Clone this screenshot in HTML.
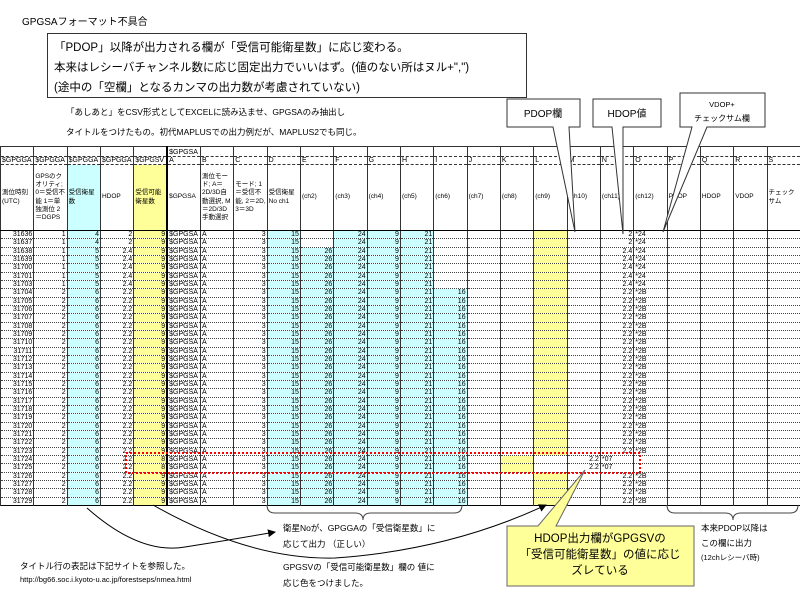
<!DOCTYPE html>
<html><head><meta charset="utf-8"><style>
body{margin:0;width:800px;height:600px;background:#fff;position:relative;overflow:hidden;font-family:"Liberation Sans","Noto Sans CJK JP",sans-serif;}
.tx{position:absolute;white-space:nowrap;color:#000;}
table{position:absolute;left:0;top:146px;width:800px;border-collapse:collapse;table-layout:fixed;font-size:7px;}
td{border-left:1px solid #333;border-bottom:1px dotted #444;padding:0 1px;height:8.33px;line-height:7px;text-align:right;overflow:hidden;white-space:nowrap;}
tr.d td{height:7.33px;}
td:nth-child(6){border-left:2px solid #000;}
td.l{text-align:left;}
td.c{background:#ccffff;}
td.y{background:#ffff99;}
tr.h1 td{height:9px;border-bottom:1px dashed #333;text-align:left;vertical-align:bottom;}
tr.h2 td{height:7px;border-bottom:1px dashed #333;text-align:left;}
tr.h3 td{height:65px;border-bottom:1px solid #000;text-align:left;white-space:normal;line-height:8.3px;vertical-align:middle;font-size:6.5px;}
table{border-top:1px solid #333;border-bottom:1px solid #000;}
</style></head><body>
<div class="tx" style="left:22px;top:13px;font-size:10px;">GPGSAフォーマット不具合</div>
<div style="position:absolute;left:47px;top:33px;width:478px;height:63px;border:1px solid #333;"></div>
<div class="tx" style="left:54px;top:38px;font-size:11.5px;line-height:20px;">「PDOP」以降が出力される欄が「受信可能衛星数」に応じ変わる。<br>本来はレシーバチャンネル数に応じ固定出力でいいはず。(値のない所はヌル+",")<br>(途中の「空欄」となるカンマの出力数が考慮されていない)</div>
<div class="tx" style="left:66px;top:102px;font-size:8.5px;line-height:20px;">「あしあと」をCSV形式としてEXCELに読み込ませ、GPGSAのみ抽出し<br>タイトルをつけたもの。初代MAPLUSでの出力例だが、MAPLUS2でも同じ。</div>

<table>
<colgroup><col span="24" style="width:33.333px"></colgroup>
<tr class="h1"><td></td><td></td><td></td><td></td><td></td><td>$GPGSA</td><td></td><td></td><td></td><td></td><td></td><td></td><td></td><td></td><td></td><td></td><td></td><td></td><td></td><td></td><td></td><td></td><td></td><td></td></tr>
<tr class="h2"><td>$GPGGA</td><td>$GPGGA</td><td>$GPGGA</td><td>$GPGGA</td><td>$GPGSV</td><td>A</td><td>B</td><td>C</td><td>D</td><td>E</td><td>F</td><td>G</td><td>H</td><td>I</td><td>J</td><td>K</td><td>L</td><td>M</td><td>N</td><td>O</td><td>P</td><td>Q</td><td>R</td><td>S</td></tr>
<tr class="h3"><td>測位時刻(UTC)</td><td>GPSのクオリティ; 0＝受信不能 1＝単独測位 2＝DGPS</td><td class="c">受信衛星数</td><td>HDOP</td><td class="y">受信可能衛星数</td><td>$GPGSA</td><td>測位モード; A＝2D/3D自動選択, M＝2D/3D手動選択</td><td>モード; 1＝受信不能, 2＝2D, 3＝3D</td><td>受信衛星No ch1</td><td>(ch2)</td><td>(ch3)</td><td>(ch4)</td><td>(ch5)</td><td>(ch6)</td><td>(ch7)</td><td>(ch8)</td><td>(ch9)</td><td>(ch10)</td><td>(ch11)</td><td>(ch12)</td><td>PDOP</td><td>HDOP</td><td>VDOP</td><td>チェックサム</td></tr>
<tr class="d"><td>31636</td><td>1</td><td class="c">4</td><td>2</td><td class="y">9</td><td class="l">$GPGSA</td><td class="l">A</td><td>3</td><td class="c">15</td><td></td><td class="c">24</td><td class="c">9</td><td class="c">21</td><td></td><td></td><td></td><td class="y"></td><td></td><td>2</td><td class="l">*24</td><td></td><td></td><td></td><td></td></tr>
<tr class="d"><td>31637</td><td>1</td><td class="c">4</td><td>2</td><td class="y">9</td><td class="l">$GPGSA</td><td class="l">A</td><td>3</td><td class="c">15</td><td></td><td class="c">24</td><td class="c">9</td><td class="c">21</td><td></td><td></td><td></td><td class="y"></td><td></td><td>2</td><td class="l">*24</td><td></td><td></td><td></td><td></td></tr>
<tr class="d"><td>31638</td><td>1</td><td class="c">5</td><td>2.4</td><td class="y">9</td><td class="l">$GPGSA</td><td class="l">A</td><td>3</td><td class="c">15</td><td class="c">26</td><td class="c">24</td><td class="c">9</td><td class="c">21</td><td></td><td></td><td></td><td class="y"></td><td></td><td>2.4</td><td class="l">*24</td><td></td><td></td><td></td><td></td></tr>
<tr class="d"><td>31639</td><td>1</td><td class="c">5</td><td>2.4</td><td class="y">9</td><td class="l">$GPGSA</td><td class="l">A</td><td>3</td><td class="c">15</td><td class="c">26</td><td class="c">24</td><td class="c">9</td><td class="c">21</td><td></td><td></td><td></td><td class="y"></td><td></td><td>2.4</td><td class="l">*24</td><td></td><td></td><td></td><td></td></tr>
<tr class="d"><td>31700</td><td>1</td><td class="c">5</td><td>2.4</td><td class="y">9</td><td class="l">$GPGSA</td><td class="l">A</td><td>3</td><td class="c">15</td><td class="c">26</td><td class="c">24</td><td class="c">9</td><td class="c">21</td><td></td><td></td><td></td><td class="y"></td><td></td><td>2.4</td><td class="l">*24</td><td></td><td></td><td></td><td></td></tr>
<tr class="d"><td>31701</td><td>1</td><td class="c">5</td><td>2.4</td><td class="y">9</td><td class="l">$GPGSA</td><td class="l">A</td><td>3</td><td class="c">15</td><td class="c">26</td><td class="c">24</td><td class="c">9</td><td class="c">21</td><td></td><td></td><td></td><td class="y"></td><td></td><td>2.4</td><td class="l">*24</td><td></td><td></td><td></td><td></td></tr>
<tr class="d"><td>31703</td><td>1</td><td class="c">5</td><td>2.4</td><td class="y">9</td><td class="l">$GPGSA</td><td class="l">A</td><td>3</td><td class="c">15</td><td class="c">26</td><td class="c">24</td><td class="c">9</td><td class="c">21</td><td></td><td></td><td></td><td class="y"></td><td></td><td>2.4</td><td class="l">*24</td><td></td><td></td><td></td><td></td></tr>
<tr class="d"><td>31704</td><td>2</td><td class="c">6</td><td>2.2</td><td class="y">9</td><td class="l">$GPGSA</td><td class="l">A</td><td>3</td><td class="c">15</td><td class="c">26</td><td class="c">24</td><td class="c">9</td><td class="c">21</td><td class="c">16</td><td></td><td></td><td class="y"></td><td></td><td>2.2</td><td class="l">*2B</td><td></td><td></td><td></td><td></td></tr>
<tr class="d"><td>31705</td><td>2</td><td class="c">6</td><td>2.2</td><td class="y">9</td><td class="l">$GPGSA</td><td class="l">A</td><td>3</td><td class="c">15</td><td class="c">26</td><td class="c">24</td><td class="c">9</td><td class="c">21</td><td class="c">16</td><td></td><td></td><td class="y"></td><td></td><td>2.2</td><td class="l">*2B</td><td></td><td></td><td></td><td></td></tr>
<tr class="d"><td>31706</td><td>2</td><td class="c">6</td><td>2.2</td><td class="y">9</td><td class="l">$GPGSA</td><td class="l">A</td><td>3</td><td class="c">15</td><td class="c">26</td><td class="c">24</td><td class="c">9</td><td class="c">21</td><td class="c">16</td><td></td><td></td><td class="y"></td><td></td><td>2.2</td><td class="l">*2B</td><td></td><td></td><td></td><td></td></tr>
<tr class="d"><td>31707</td><td>2</td><td class="c">6</td><td>2.2</td><td class="y">9</td><td class="l">$GPGSA</td><td class="l">A</td><td>3</td><td class="c">15</td><td class="c">26</td><td class="c">24</td><td class="c">9</td><td class="c">21</td><td class="c">16</td><td></td><td></td><td class="y"></td><td></td><td>2.2</td><td class="l">*2B</td><td></td><td></td><td></td><td></td></tr>
<tr class="d"><td>31708</td><td>2</td><td class="c">6</td><td>2.2</td><td class="y">9</td><td class="l">$GPGSA</td><td class="l">A</td><td>3</td><td class="c">15</td><td class="c">26</td><td class="c">24</td><td class="c">9</td><td class="c">21</td><td class="c">16</td><td></td><td></td><td class="y"></td><td></td><td>2.2</td><td class="l">*2B</td><td></td><td></td><td></td><td></td></tr>
<tr class="d"><td>31709</td><td>2</td><td class="c">6</td><td>2.2</td><td class="y">9</td><td class="l">$GPGSA</td><td class="l">A</td><td>3</td><td class="c">15</td><td class="c">26</td><td class="c">24</td><td class="c">9</td><td class="c">21</td><td class="c">16</td><td></td><td></td><td class="y"></td><td></td><td>2.2</td><td class="l">*2B</td><td></td><td></td><td></td><td></td></tr>
<tr class="d"><td>31710</td><td>2</td><td class="c">6</td><td>2.2</td><td class="y">9</td><td class="l">$GPGSA</td><td class="l">A</td><td>3</td><td class="c">15</td><td class="c">26</td><td class="c">24</td><td class="c">9</td><td class="c">21</td><td class="c">16</td><td></td><td></td><td class="y"></td><td></td><td>2.2</td><td class="l">*2B</td><td></td><td></td><td></td><td></td></tr>
<tr class="d"><td>31711</td><td>2</td><td class="c">6</td><td>2.2</td><td class="y">9</td><td class="l">$GPGSA</td><td class="l">A</td><td>3</td><td class="c">15</td><td class="c">26</td><td class="c">24</td><td class="c">9</td><td class="c">21</td><td class="c">16</td><td></td><td></td><td class="y"></td><td></td><td>2.2</td><td class="l">*2B</td><td></td><td></td><td></td><td></td></tr>
<tr class="d"><td>31712</td><td>2</td><td class="c">6</td><td>2.2</td><td class="y">9</td><td class="l">$GPGSA</td><td class="l">A</td><td>3</td><td class="c">15</td><td class="c">26</td><td class="c">24</td><td class="c">9</td><td class="c">21</td><td class="c">16</td><td></td><td></td><td class="y"></td><td></td><td>2.2</td><td class="l">*2B</td><td></td><td></td><td></td><td></td></tr>
<tr class="d"><td>31713</td><td>2</td><td class="c">6</td><td>2.2</td><td class="y">9</td><td class="l">$GPGSA</td><td class="l">A</td><td>3</td><td class="c">15</td><td class="c">26</td><td class="c">24</td><td class="c">9</td><td class="c">21</td><td class="c">16</td><td></td><td></td><td class="y"></td><td></td><td>2.2</td><td class="l">*2B</td><td></td><td></td><td></td><td></td></tr>
<tr class="d"><td>31714</td><td>2</td><td class="c">6</td><td>2.2</td><td class="y">9</td><td class="l">$GPGSA</td><td class="l">A</td><td>3</td><td class="c">15</td><td class="c">26</td><td class="c">24</td><td class="c">9</td><td class="c">21</td><td class="c">16</td><td></td><td></td><td class="y"></td><td></td><td>2.2</td><td class="l">*2B</td><td></td><td></td><td></td><td></td></tr>
<tr class="d"><td>31715</td><td>2</td><td class="c">6</td><td>2.2</td><td class="y">9</td><td class="l">$GPGSA</td><td class="l">A</td><td>3</td><td class="c">15</td><td class="c">26</td><td class="c">24</td><td class="c">9</td><td class="c">21</td><td class="c">16</td><td></td><td></td><td class="y"></td><td></td><td>2.2</td><td class="l">*2B</td><td></td><td></td><td></td><td></td></tr>
<tr class="d"><td>31716</td><td>2</td><td class="c">6</td><td>2.2</td><td class="y">9</td><td class="l">$GPGSA</td><td class="l">A</td><td>3</td><td class="c">15</td><td class="c">26</td><td class="c">24</td><td class="c">9</td><td class="c">21</td><td class="c">16</td><td></td><td></td><td class="y"></td><td></td><td>2.2</td><td class="l">*2B</td><td></td><td></td><td></td><td></td></tr>
<tr class="d"><td>31717</td><td>2</td><td class="c">6</td><td>2.2</td><td class="y">9</td><td class="l">$GPGSA</td><td class="l">A</td><td>3</td><td class="c">15</td><td class="c">26</td><td class="c">24</td><td class="c">9</td><td class="c">21</td><td class="c">16</td><td></td><td></td><td class="y"></td><td></td><td>2.2</td><td class="l">*2B</td><td></td><td></td><td></td><td></td></tr>
<tr class="d"><td>31718</td><td>2</td><td class="c">6</td><td>2.2</td><td class="y">9</td><td class="l">$GPGSA</td><td class="l">A</td><td>3</td><td class="c">15</td><td class="c">26</td><td class="c">24</td><td class="c">9</td><td class="c">21</td><td class="c">16</td><td></td><td></td><td class="y"></td><td></td><td>2.2</td><td class="l">*2B</td><td></td><td></td><td></td><td></td></tr>
<tr class="d"><td>31719</td><td>2</td><td class="c">6</td><td>2.2</td><td class="y">9</td><td class="l">$GPGSA</td><td class="l">A</td><td>3</td><td class="c">15</td><td class="c">26</td><td class="c">24</td><td class="c">9</td><td class="c">21</td><td class="c">16</td><td></td><td></td><td class="y"></td><td></td><td>2.2</td><td class="l">*2B</td><td></td><td></td><td></td><td></td></tr>
<tr class="d"><td>31720</td><td>2</td><td class="c">6</td><td>2.2</td><td class="y">9</td><td class="l">$GPGSA</td><td class="l">A</td><td>3</td><td class="c">15</td><td class="c">26</td><td class="c">24</td><td class="c">9</td><td class="c">21</td><td class="c">16</td><td></td><td></td><td class="y"></td><td></td><td>2.2</td><td class="l">*2B</td><td></td><td></td><td></td><td></td></tr>
<tr class="d"><td>31721</td><td>2</td><td class="c">6</td><td>2.2</td><td class="y">9</td><td class="l">$GPGSA</td><td class="l">A</td><td>3</td><td class="c">15</td><td class="c">26</td><td class="c">24</td><td class="c">9</td><td class="c">21</td><td class="c">16</td><td></td><td></td><td class="y"></td><td></td><td>2.2</td><td class="l">*2B</td><td></td><td></td><td></td><td></td></tr>
<tr class="d"><td>31722</td><td>2</td><td class="c">6</td><td>2.2</td><td class="y">9</td><td class="l">$GPGSA</td><td class="l">A</td><td>3</td><td class="c">15</td><td class="c">26</td><td class="c">24</td><td class="c">9</td><td class="c">21</td><td class="c">16</td><td></td><td></td><td class="y"></td><td></td><td>2.2</td><td class="l">*2B</td><td></td><td></td><td></td><td></td></tr>
<tr class="d"><td>31723</td><td>2</td><td class="c">6</td><td>2.2</td><td class="y">9</td><td class="l">$GPGSA</td><td class="l">A</td><td>3</td><td class="c">15</td><td class="c">26</td><td class="c">24</td><td class="c">9</td><td class="c">21</td><td class="c">16</td><td></td><td></td><td class="y"></td><td></td><td>2.2</td><td class="l">*2B</td><td></td><td></td><td></td><td></td></tr>
<tr class="d"><td>31724</td><td>2</td><td class="c">6</td><td>2.2</td><td class="y">8</td><td class="l">$GPGSA</td><td class="l">A</td><td>3</td><td class="c">15</td><td class="c">26</td><td class="c">24</td><td class="c">9</td><td class="c">21</td><td class="c">16</td><td></td><td class="y"></td><td></td><td>2.2</td><td class="l">*07</td><td></td><td></td><td></td><td></td><td></td></tr>
<tr class="d"><td>31725</td><td>2</td><td class="c">6</td><td>2.2</td><td class="y">8</td><td class="l">$GPGSA</td><td class="l">A</td><td>3</td><td class="c">15</td><td class="c">26</td><td class="c">24</td><td class="c">9</td><td class="c">21</td><td class="c">16</td><td></td><td class="y"></td><td></td><td>2.2</td><td class="l">*07</td><td></td><td></td><td></td><td></td><td></td></tr>
<tr class="d"><td>31726</td><td>2</td><td class="c">6</td><td>2.2</td><td class="y">9</td><td class="l">$GPGSA</td><td class="l">A</td><td>3</td><td class="c">15</td><td class="c">26</td><td class="c">24</td><td class="c">9</td><td class="c">21</td><td class="c">16</td><td></td><td></td><td class="y"></td><td></td><td>2.2</td><td class="l">*2B</td><td></td><td></td><td></td><td></td></tr>
<tr class="d"><td>31727</td><td>2</td><td class="c">6</td><td>2.2</td><td class="y">9</td><td class="l">$GPGSA</td><td class="l">A</td><td>3</td><td class="c">15</td><td class="c">26</td><td class="c">24</td><td class="c">9</td><td class="c">21</td><td class="c">16</td><td></td><td></td><td class="y"></td><td></td><td>2.2</td><td class="l">*2B</td><td></td><td></td><td></td><td></td></tr>
<tr class="d"><td>31728</td><td>2</td><td class="c">6</td><td>2.2</td><td class="y">9</td><td class="l">$GPGSA</td><td class="l">A</td><td>3</td><td class="c">15</td><td class="c">26</td><td class="c">24</td><td class="c">9</td><td class="c">21</td><td class="c">16</td><td></td><td></td><td class="y"></td><td></td><td>2.2</td><td class="l">*2B</td><td></td><td></td><td></td><td></td></tr>
<tr class="d"><td>31729</td><td>2</td><td class="c">6</td><td>2.2</td><td class="y">9</td><td class="l">$GPGSA</td><td class="l">A</td><td>3</td><td class="c">15</td><td class="c">26</td><td class="c">24</td><td class="c">9</td><td class="c">21</td><td class="c">16</td><td></td><td></td><td class="y"></td><td></td><td>2.2</td><td class="l">*2B</td><td></td><td></td><td></td><td></td></tr>
</table>

<svg width="800" height="600" style="position:absolute;left:0;top:0;" xmlns="http://www.w3.org/2000/svg">
<defs><marker id="ah" markerWidth="8" markerHeight="8" refX="7" refY="4" orient="auto" markerUnits="userSpaceOnUse"><path d="M0,0 L8,4 L0,8 z" fill="#000"/></marker></defs>
<!-- callouts top -->
<polygon points="507,99 580,99 580,127 569,127 575,232 553,127 507,127" fill="#fff" stroke="#333" stroke-width="1"/>
<polygon points="593,99 661,99 661,127 623,127 623,234 612,127 593,127" fill="#fff" stroke="#333" stroke-width="1"/>
<polygon points="680,93 765,93 765,127 707,127 663,232 692,127 680,127" fill="#fff" stroke="#333" stroke-width="1"/>
<text x="543" y="117" font-size="10" text-anchor="middle" font-family="Liberation Sans,Noto Sans CJK JP,sans-serif">PDOP欄</text>
<text x="627" y="117" font-size="10" text-anchor="middle" font-family="Liberation Sans,Noto Sans CJK JP,sans-serif">HDOP値</text>
<text x="722" y="107" font-size="7.5" text-anchor="middle" font-family="Liberation Sans,Noto Sans CJK JP,sans-serif">VDOP+</text>
<text x="722" y="121" font-size="8" text-anchor="middle" font-family="Liberation Sans,Noto Sans CJK JP,sans-serif">チェックサム欄</text>
<!-- red dotted rect -->
<rect x="126" y="453" width="514" height="20" fill="none" stroke="#ff0000" stroke-width="2" stroke-dasharray="2,2"/>
<!-- braces -->
<path d="M267,505 Q267,513 275,513 L355,513 Q363,513 363,520 Q363,513 371,513 L454,513 Q462,513 462,505" fill="none" stroke="#444"/>
<path d="M667,505 Q667,513 675,513 L725,513 Q733,513 733,520 Q733,513 741,513 L790,513 Q798,513 798,505" fill="none" stroke="#444"/>
<!-- curves -->
<path d="M87,508 Q140,555 185,547 Q230,540 275,532" fill="none" stroke="#000" marker-end="url(#ah)"/>
<path d="M153,505 Q250,560 335,558 Q450,550 546,505" fill="none" stroke="#000" marker-end="url(#ah)"/>
<!-- yellow callout -->
<polygon points="507,526 538,526 585,470 556,526 694,526 694,586 507,586" fill="#ffff99" stroke="#666"/>
<g font-family="Liberation Sans,Noto Sans CJK JP,sans-serif" font-size="11.5" text-anchor="middle">
<text x="600" y="542">HDOP出力欄がGPGSVの</text>
<text x="600" y="558">「受信可能衛星数」の値に応じ</text>
<text x="600" y="574">ズレている</text>
</g>
<g font-family="Liberation Sans,Noto Sans CJK JP,sans-serif" font-size="8.5">
<text x="283" y="531">衛星Noが、GPGGAの「受信衛星数」に</text>
<text x="283" y="547">応じて出力 （正しい）</text>
<text x="283" y="570">GPGSVの「受信可能衛星数」欄の 値に</text>
<text x="283" y="586">応じ色をつけました。</text>
<text x="20" y="569">タイトル行の表記は下記サイトを参照した。</text>
<text x="20" y="582" font-size="7.5">http://bg66.soc.i.kyoto-u.ac.jp/forestseps/nmea.html</text>
<text x="701" y="531">本来PDOP以降は</text>
<text x="701" y="546">この欄に出力</text>
<text x="701" y="560" font-size="7.5">(12chレシーバ時)</text>
</g>
</svg>
</body></html>
